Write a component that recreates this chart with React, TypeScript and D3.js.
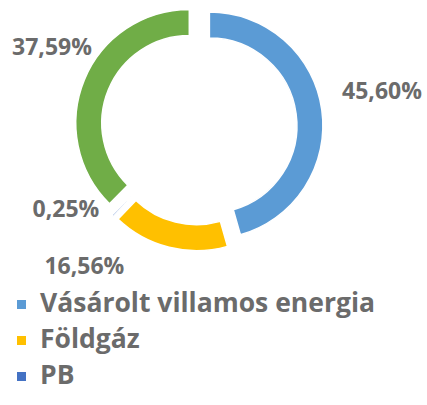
import React from "react";
import * as d3 from "d3";

const categories = ["Vásárolt villamos energia", "Földgáz", "PB", "Egyéb"];
const values = [45.6, 16.56, 0.25, 37.59];
const colors = ["#5B9BD5", "#FFC000", "#4472C4", "#70AD47"];
// legend entries visible in the reference (the rest is cut off)
const legendVisible = 3;
// label nudges relative to the radial label point (dx, dy)
const labelNudges: [number, number][] = [
  [24.5, -14.5],
  [-76, -17],
  [-21.5, -33],
  [1, -19],
];

const W = 427;
const H = 405;
const CX = 199;
const CY = 127;
const OUTER = 113.5;
const INNER = 87.5;
const EXPLODE = 10.5;
const LABEL_R = 160;
const TEXT = "#6B6B6B";
const FONT = "'Open Sans', Lato, sans-serif";
const FS = 23;
const LEGEND_FS = 26.5;

const huLocale = d3.formatLocale({
  decimal: ",",
  thousands: " ",
  grouping: [3],
  currency: ["", " Ft"],
});
const pct = (v: number) => huLocale.format(".2f")(v) + "%";

export default function App() {
  const pie = d3
    .pie<number>()
    .sort(null)
    .value((d) => d)
    .startAngle(0)
    .endAngle(2 * Math.PI);
  const arcs = pie(values);
  const arc = d3.arc<d3.PieArcDatum<number>>().innerRadius(INNER).outerRadius(OUTER);

  return (
    <svg
      width={W}
      height={H}
      style={{ position: "absolute", left: 0, top: 0, background: "#fff" }}
      fontFamily={FONT}
    >
      <g transform={`translate(${CX},${CY})`}>
        {arcs.map((a, i) => {
          const mid = (a.startAngle + a.endAngle) / 2;
          const tx = EXPLODE * Math.sin(mid);
          const ty = -EXPLODE * Math.cos(mid);
          return (
            <path
              key={categories[i]}
              d={arc(a) || ""}
              transform={`translate(${tx},${ty})`}
              fill={colors[i]}
              stroke="#fff"
              strokeWidth={1.5}
            />
          );
        })}
        {arcs.map((a, i) => {
          const mid = (a.startAngle + a.endAngle) / 2;
          const x = LABEL_R * Math.sin(mid) + labelNudges[i][0];
          const y = -LABEL_R * Math.cos(mid) + labelNudges[i][1];
          return (
            <text
              key={"l" + i}
              x={x}
              y={y + FS * 0.36}
              textAnchor="middle"
              fontSize={FS}
              fontWeight={700}
              fill={TEXT}
            >
              {pct(values[i])}
            </text>
          );
        })}
      </g>
      <g>
        {categories.slice(0, legendVisible).map((c, i) => {
          const baseline = 312 + i * 36;
          return (
            <g key={"lg" + i}>
              <rect x={17} y={baseline - 12} width={9} height={9} fill={colors[i]} />
              <text x={40} y={baseline} fontSize={LEGEND_FS} fontWeight={700} fill={TEXT}>
                {c}
              </text>
            </g>
          );
        })}
      </g>
    </svg>
  );
}
